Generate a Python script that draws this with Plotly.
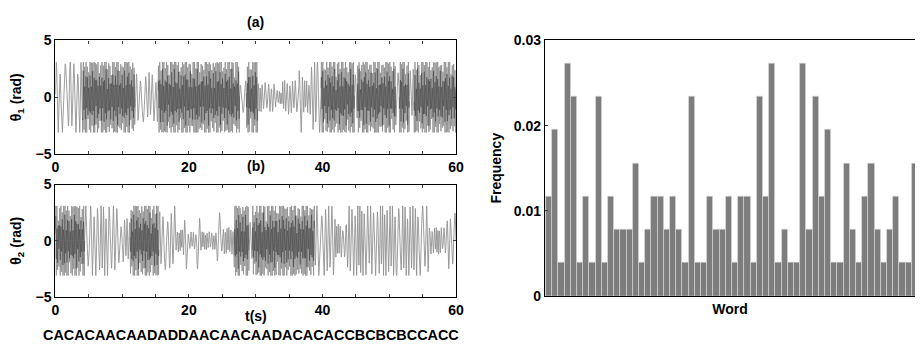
import numpy as np
import plotly.graph_objects as go

# ---------------- data ----------------
# Time-series regimes (seconds): start, end, envelope amplitude (rad), oscillation rate (cycles/s), dense flag
theta1_seg_start = [0.0, 4.1, 11.9, 15.4, 27.6, 28.6, 30.3, 33.0, 34.0, 36.5, 37.0, 38.3, 39.8, 44.8, 45.2, 51.0, 51.5, 53.0, 53.7]
theta1_seg_end   = [4.1, 11.9, 15.4, 27.6, 28.6, 30.3, 33.0, 34.0, 36.5, 37.0, 38.3, 39.8, 44.8, 45.2, 51.0, 51.5, 53.0, 53.7, 60.0]
theta1_seg_amp   = [3.4, 3.6, 2.2, 3.6, 1.5, 3.6, 1.3, 0.6, 1.5, 3.1, 1.5, 3.4, 3.6, 2.0, 3.6, 2.5, 3.6, 2.5, 3.6]
theta1_seg_freq  = [1.6, 5.0, 1.8, 5.0, 2.0, 5.0, 2.6, 3.0, 2.6, 2.0, 2.6, 2.0, 5.0, 2.0, 5.0, 2.0, 5.0, 2.0, 5.0]
theta1_seg_dense = [0, 1, 0, 1, 0, 1, 0, 0, 0, 0, 0, 0, 1, 0, 1, 0, 1, 0, 1]

theta2_seg_start = [0.0, 4.4, 9.4, 11.2, 15.5, 17.5, 18.0, 19.2, 19.8, 21.2, 21.8, 24.2, 24.8, 26.8, 29.0, 29.5, 38.8, 41.5, 41.9, 43.6, 53.5, 56.0, 58.5]
theta2_seg_end   = [4.4, 9.4, 11.2, 15.5, 17.5, 18.0, 19.2, 19.8, 21.2, 21.8, 24.2, 24.8, 26.8, 29.0, 29.5, 38.8, 41.5, 41.9, 43.6, 53.5, 56.0, 58.5, 60.0]
theta2_seg_amp   = [3.6, 3.4, 2.0, 3.6, 2.6, 3.2, 1.0, 2.5, 0.8, 2.5, 0.8, 2.5, 1.2, 3.6, 2.0, 3.6, 3.4, 3.2, 1.5, 3.4, 3.4, 1.2, 2.5]
theta2_seg_freq  = [5.0, 2.0, 2.0, 5.0, 2.0, 2.0, 3.0, 2.0, 3.0, 2.0, 3.0, 2.0, 3.0, 5.0, 2.0, 5.0, 2.0, 2.0, 3.0, 2.4, 2.0, 3.0, 2.0]
theta2_seg_dense = [1, 0, 0, 1, 0, 0, 0, 0, 0, 0, 0, 0, 0, 1, 0, 1, 0, 0, 0, 0, 0, 0, 0]

time_ticks = [0, 5, 10, 15, 20, 25, 30, 35, 40, 45, 50, 55, 60]
time_tick_labels = ["0", "", "", "", "20", "", "", "", "40", "", "", "", "60"]
angle_ticks = [-5, 0, 5]

symbol_sequence = "CACACAACAADADDAACAACAADACACACCBCBCBCCACC"

# Word frequencies (bar chart), left to right
word_index = list(range(60))
word_freq = [0.0117, 0.0195, 0.0039, 0.0273, 0.0234, 0.0039, 0.0117, 0.0039, 0.0234, 0.0039,
             0.0117, 0.0078, 0.0078, 0.0078, 0.0156, 0.0039, 0.0078, 0.0117, 0.0117, 0.0078,
             0.0117, 0.0078, 0.0039, 0.0234, 0.0039, 0.0039, 0.0117, 0.0078, 0.0078, 0.0117,
             0.0039, 0.0117, 0.0117, 0.0039, 0.0234, 0.0117, 0.0273, 0.0039, 0.0078, 0.0039,
             0.0039, 0.0273, 0.0078, 0.0234, 0.0117, 0.0195, 0.0039, 0.0039, 0.0156, 0.0078,
             0.0039, 0.0117, 0.0156, 0.0078, 0.0039, 0.0078, 0.0117, 0.0039, 0.0039, 0.0156]
freq_ticks = [0, 0.01, 0.02, 0.03]
freq_tick_labels = ["0", "0.01", "0.02", "0.03"]


def build_signal(starts, ends, amps, freqs, dense, dt=0.01):
    t = np.arange(0.0, 60.0 + dt / 2, dt)
    A = np.zeros_like(t)
    F = np.zeros_like(t)
    D = np.zeros_like(t)
    for s, e, a, f, d in zip(starts, ends, amps, freqs, dense):
        m = (t >= s) & (t <= e)
        A[m] = a
        F[m] = f
        D[m] = d
    # irregular rate for the sparse regimes
    F = np.where(D > 0, F, F * (1.0 + 0.45 * np.sin(2 * np.pi * 0.43 * t + 0.9) * np.sin(2 * np.pi * 0.17 * t)))
    phase = np.cumsum(2 * np.pi * F * dt)
    mod = np.where(D > 0,
                   0.45 + 0.35 * np.abs(np.sin(phase * 0.173 + 0.7)) + 0.25 * np.abs(np.sin(phase * 0.061 + 2.1)),
                   0.55 + 0.45 * np.abs(np.sin(phase * 0.37 + 0.3)))
    y = np.clip(A * mod * np.sin(phase), -3.1, 3.1)
    core_mod = 0.3 + 0.55 * np.sin(phase * 0.29 + 1.1) ** 2 * (0.4 + 0.6 * np.abs(np.sin(phase * 0.113 + 0.4)))
    y_core = np.where(D > 0, np.clip(y * core_mod, -2.5, 2.5), np.nan)
    return t, y, y_core


t1, y1, c1 = build_signal(theta1_seg_start, theta1_seg_end, theta1_seg_amp, theta1_seg_freq, theta1_seg_dense)
t2, y2, c2 = build_signal(theta2_seg_start, theta2_seg_end, theta2_seg_amp, theta2_seg_freq, theta2_seg_dense)

W, H = 923, 351
FONT = "Liberation Sans"
FS = 14
line_col = "#939393"
core_col = "rgba(40,40,40,0.55)"

fig = go.Figure()
for tt, yy, cc, xa, ya in [(t1, y1, c1, "x", "y"), (t2, y2, c2, "x2", "y2")]:
    fig.add_trace(go.Scatter(x=tt, y=yy, mode="lines", line=dict(color=line_col, width=0.9),
                             xaxis=xa, yaxis=ya, showlegend=False, hoverinfo="skip"))
    fig.add_trace(go.Scatter(x=tt, y=cc, mode="lines", line=dict(color=core_col, width=0.7),
                             xaxis=xa, yaxis=ya, showlegend=False, hoverinfo="skip", connectgaps=False))
fig.add_trace(go.Bar(x=word_index, y=word_freq, marker=dict(color="#7d7d7d", line=dict(color="#dcdcdc", width=0.6)),
                     width=1.0, xaxis="x3", yaxis="y3", showlegend=False))

tfont = dict(size=FS, family=FONT, color="black", weight="bold")
axis_common = dict(showline=True, linecolor="black", linewidth=1.2, mirror="ticks",
                   ticks="inside", ticklen=3, tickcolor="#444", showgrid=False, zeroline=False,
                   tickfont=tfont)

lx0, lx1 = 52 / W, 458 / W
fig.update_layout(
    width=W, height=H,
    margin=dict(l=0, r=0, t=0, b=0),
    plot_bgcolor="white", paper_bgcolor="white",
    font=dict(family=FONT, color="black", size=FS, weight="bold"),
    xaxis=dict(domain=[lx0, lx1], anchor="y", range=[0, 60], tickmode="array",
               tickvals=time_ticks, ticktext=time_tick_labels, **axis_common),
    yaxis=dict(domain=[1 - 153 / H, 1 - 34 / H], anchor="x", range=[-5, 5], tickmode="array",
               tickvals=angle_ticks,
               title=dict(text="θ<sub>1</sub> (rad)", standoff=10, font=tfont), **axis_common),
    xaxis2=dict(domain=[lx0, lx1], anchor="y2", range=[0, 60], tickmode="array",
                tickvals=time_ticks, ticktext=time_tick_labels, **axis_common),
    yaxis2=dict(domain=[1 - 302.7 / H, 1 - 185 / H], anchor="x2", range=[-5, 5], tickmode="array",
                tickvals=angle_ticks,
                title=dict(text="θ<sub>2</sub> (rad)", standoff=10, font=tfont), **axis_common),
    xaxis3=dict(domain=[548 / W, 1.0], anchor="y3", range=[-0.66, 59.05], showline=True,
                linecolor="black", linewidth=1.2, mirror=True, ticks="", showticklabels=False,
                showgrid=False, zeroline=False,
                title=dict(text="Word", standoff=8, font=tfont)),
    yaxis3=dict(domain=[1 - 301.7 / H, 1 - 34 / H], anchor="x3", range=[0, 0.03], tickmode="array",
                tickvals=freq_ticks, ticktext=freq_tick_labels, showline=True, linecolor="black",
                linewidth=1.2, mirror=False, ticks="inside", ticklen=3, tickcolor="#444",
                showgrid=False, zeroline=False, tickfont=tfont,
                title=dict(text="Frequency", standoff=8, font=tfont)),
    bargap=0,
)

cx = (lx0 + lx1) / 2
for txt, ypx in [("(a)", 15), ("(b)", 166), ("t(s)", 323)]:
    fig.add_annotation(x=cx, y=1 - ypx / H, xref="paper", yref="paper", text=txt, showarrow=False,
                       font=tfont, xanchor="center", yanchor="middle")
fig.add_annotation(x=250 / W, y=1 - 343 / H, xref="paper", yref="paper", text=symbol_sequence,
                   showarrow=False, font=dict(size=14.4, family=FONT, color="black", weight="bold"),
                   xanchor="center", yanchor="middle")

fig.write_html("out.html")
